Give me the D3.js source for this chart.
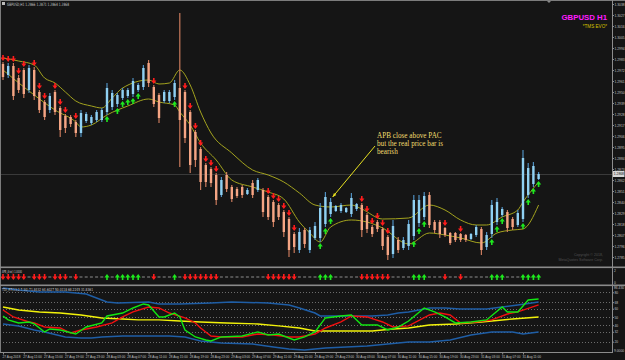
<!DOCTYPE html>
<html>
<head>
<meta charset="utf-8">
<script src="https://cdn.jsdelivr.net/npm/d3@7"></script>
<style>
  body { margin: 0; background: #151515; }
  svg { display: block; font-family: "DejaVu Sans", sans-serif; }
</style>
</head>
<body>
<div id="chart"></div>
<script>
// GBPUSD H1 bars, 27 Aug 07:00 -> 31 Aug 10:00
const barOpen = [1.2978,1.2967,1.2976,1.2964,1.2972,1.2952,1.2972,1.2950,1.2940,1.2932,
  1.2950,1.2934,1.2926,1.2925,1.2920,1.2909,1.2921,1.2919,1.2922,1.2922,
  1.2930,1.2935,1.2938,1.2944,1.2946,1.2948,1.2952,1.2955,1.2979,1.2955,
  1.2947,1.2941,1.2941,1.2945,1.2954,1.2950,1.2930,1.2910,1.2893,1.2877,
  1.2873,1.2867,1.2847,1.2867,1.2855,1.2853,1.2855,1.2848,1.2859,1.2852,
  1.2852,1.2845,1.2840,1.2837,1.2830,1.2823,1.2808,1.2792,1.2812,1.2792,
  1.2804,1.2804,1.2818,1.2828,1.2831,1.2831,1.2830,1.2828,1.2833,1.2837,
  1.2827,1.2815,1.2820,1.2813,1.2805,1.2788,1.2802,1.2794,1.2796,1.2806,
  1.2819,1.2825,1.2847,1.2820,1.2820,1.2814,1.2809,1.2809,1.2808,1.2807,
  1.2803,1.2807,1.2813,1.2795,1.2808,1.2820,1.2827,1.2830,1.2823,1.2817,
  1.2823,1.2847,1.2858,1.2863];
const barHigh = [1.2980,1.2979,1.2979,1.2967,1.2974,1.2977,1.2975,1.2952,1.2942,1.2949,
  1.2952,1.2936,1.2928,1.2927,1.2922,1.2932,1.2930,1.2927,1.2932,1.2934,
  1.2959,1.2952,1.2949,1.2954,1.2954,1.2964,1.2959,1.2977,1.2982,1.2957,
  1.2949,1.2952,1.2952,1.2962,1.3029,1.2952,1.2932,1.2912,1.2895,1.2879,
  1.2875,1.2869,1.2865,1.2870,1.2857,1.2855,1.2857,1.2854,1.2862,1.2864,
  1.2854,1.2847,1.2842,1.2839,1.2832,1.2825,1.2810,1.2814,1.2814,1.2815,
  1.2820,1.2839,1.2850,1.2844,1.2837,1.2839,1.2835,1.2849,1.2839,1.2839,
  1.2829,1.2817,1.2822,1.2815,1.2807,1.2822,1.2805,1.2805,1.2822,1.2847,
  1.2847,1.2850,1.2850,1.2822,1.2822,1.2815,1.2810,1.2810,1.2809,1.2808,
  1.2809,1.2817,1.2815,1.2810,1.2842,1.2844,1.2835,1.2832,1.2825,1.2832,
  1.2892,1.2879,1.2880,1.2870];
const barLow = [1.2962,1.2964,1.2942,1.2949,1.2944,1.2949,1.2942,1.2929,1.2922,1.2929,
  1.2927,1.2905,1.2909,1.2915,1.2905,1.2905,1.2919,1.2917,1.2920,1.2920,
  1.2927,1.2932,1.2935,1.2942,1.2944,1.2945,1.2950,1.2952,1.2955,1.2935,
  1.2919,1.2939,1.2939,1.2942,1.2875,1.2899,1.2869,1.2875,1.2852,1.2855,
  1.2855,1.2837,1.2845,1.2850,1.2840,1.2844,1.2844,1.2847,1.2844,1.2850,
  1.2825,1.2822,1.2815,1.2822,1.2805,1.2785,1.2789,1.2789,1.2794,1.2789,
  1.2802,1.2800,1.2815,1.2825,1.2830,1.2829,1.2829,1.2825,1.2831,1.2805,
  1.2809,1.2805,1.2810,1.2792,1.2782,1.2784,1.2789,1.2792,1.2792,1.2802,
  1.2815,1.2822,1.2814,1.2809,1.2804,1.2805,1.2797,1.2800,1.2800,1.2800,
  1.2802,1.2805,1.2787,1.2792,1.2804,1.2817,1.2825,1.2810,1.2812,1.2815,
  1.2820,1.2844,1.2855,1.2862];
const barClose = [1.2965,1.2976,1.2946,1.2952,1.2948,1.2974,1.2946,1.2932,1.2925,1.2946,
  1.2930,1.2912,1.2914,1.2918,1.2909,1.2929,1.2928,1.2925,1.2930,1.2932,
  1.2954,1.2949,1.2947,1.2952,1.2952,1.2961,1.2957,1.2974,1.2959,1.2938,
  1.2924,1.2950,1.2950,1.2959,1.2922,1.2904,1.2877,1.2882,1.2860,1.2860,
  1.2859,1.2842,1.2862,1.2853,1.2843,1.2846,1.2847,1.2852,1.2847,1.2862,
  1.2830,1.2825,1.2820,1.2825,1.2810,1.2792,1.2795,1.2810,1.2798,1.2812,
  1.2816,1.2834,1.2845,1.2840,1.2836,1.2837,1.2834,1.2844,1.2838,1.2812,
  1.2813,1.2808,1.2813,1.2796,1.2787,1.2816,1.2792,1.2802,1.2818,1.2842,
  1.2842,1.2846,1.2817,1.2812,1.2808,1.2807,1.2799,1.2802,1.2802,1.2802,
  1.2808,1.2815,1.2792,1.2807,1.2837,1.2840,1.2833,1.2814,1.2815,1.2829,
  1.2884,1.2874,1.2876,1.2868];

// APB arrow signal per bar: R = sell, U = buy, N = none
const signals = ("RRRRRNRRRNRRRNRNNNNNUNUUUUUNNRNNNUN" +
  "RRRRRRRNNNNNNNNNRRRRRRNNNNUUUNNNNN" +
  "RRRRRRNNNNUUUNNNRNNRNNNNNUUUNNNUUUU").split("");

// PAC channel [bar, price]
const pacUpper = [[0,1.2984],[3,1.2981],[6,1.2977],[8,1.2964],[10,1.2959],[12,1.2950],[14,1.2941],
  [17,1.2936],[19,1.2934],[21,1.2944],[23,1.2954],[28,1.2962],[30,1.2958],[32,1.2959],[34,1.2972],
  [36,1.2957],[38,1.2930],[40,1.2909],[44,1.2889],[48,1.2872],[51,1.2867],[54,1.2860],[57,1.2849],
  [60,1.2837],[63,1.2835],[67,1.2837],[69,1.2833],[73,1.2823],[78,1.2824],[82,1.2837],[85,1.2832],
  [88,1.2822],[91,1.2817],[93,1.2817],[96,1.2825],[99,1.2832],[100,1.2840],[103,1.2860]];
const pacLower = [[0,1.2972],[6,1.2947],[10,1.2932],[14,1.2920],[15,1.2915],[17,1.2917],[20,1.2927],
  [24,1.2936],[28,1.2943],[30,1.2940],[33,1.2937],[34,1.2930],[36,1.2917],[38,1.2899],[41,1.2882],
  [44,1.2862],[48,1.2855],[51,1.2850],[54,1.2843],[57,1.2820],[59,1.2809],[61,1.2800],[63,1.2815],
  [67,1.2822],[70,1.2820],[73,1.2814],[78,1.2798],[82,1.2809],[85,1.2807],[88,1.2804],[92,1.2799],
  [95,1.2809],[98,1.2812],[100,1.2813],[103,1.2837]];

// TDI lines [bar, value]
const tdiUpper = [[0,85.2],[3,82.8],[7,80.4],[12,80.4],[16,77.9],[19,70.6],[20,68.2],[22,67.0],[28,68.2],
  [30,65.8],[34,65.8],[40,67.0],[44,68.2],[51,67.0],[55,64.6],[57,60.9],[60,54.8],[61,51.2],[67,51.2],
  [71,51.2],[74,52.4],[76,54.8],[78,56.1],[82,60.9],[85,60.9],[88,59.7],[93,59.7],[96,62.1],[99,64.6],[103,68.2]];
const tdiLower = [[0,41.5],[3,39.1],[6,34.2],[8,31.8],[12,25.7],[15,24.5],[17,24.5],[19,25.7],[23,26.9],
  [26,26.9],[32,26.9],[35,25.7],[38,20.8],[40,19.6],[42,18.4],[48,17.2],[52,13.5],[55,11.1],[58,9.9],
  [60,11.1],[62,12.3],[66,13.5],[70,14.8],[74,17.2],[78,19.6],[82,19.6],[86,22.0],[90,28.1],[94,31.8],
  [98,31.8],[100,29.3],[103,31.8]];
const tdiBase = [[0,62.1],[3,58.5],[7,56.1],[11,54.8],[15,52.4],[19,48.8],[23,47.6],[26,46.4],[30,46.4],
  [34,45.1],[38,43.9],[43,42.7],[49,41.5],[53,39.1],[57,36.6],[60,33.0],[64,33.0],[67,33.0],[71,33.0],
  [75,35.4],[78,36.6],[82,40.3],[87,41.5],[92,43.9],[98,47.6],[103,50.0]];
const tdiSignal = [[0,58.5],[2,50.0],[5,43.9],[6,42.7],[8,37.8],[11,36.6],[13,30.5],[15,34.2],[18,37.8],
  [21,42.7],[23,50.0],[25,56.1],[28,62.1],[30,60.9],[32,54.8],[35,48.8],[37,42.7],[38,36.6],[40,26.9],
  [42,25.7],[46,25.7],[49,29.3],[52,28.1],[55,25.7],[57,25.7],[60,29.3],[62,36.6],[65,43.9],[67,51.2],
  [70,50.0],[73,43.9],[75,37.8],[78,39.1],[82,52.4],[84,54.8],[86,52.4],[88,42.7],[91,43.9],[94,46.4],
  [97,53.6],[99,56.1],[103,64.6]];
const tdiPrice = [[0,51.2],[1,46.4],[3,42.7],[5,43.9],[6,41.5],[8,31.8],[9,35.4],[11,34.2],[14,29.3],
  [16,37.8],[19,42.7],[20,51.2],[23,54.8],[25,60.9],[27,65.8],[28,64.6],[30,50.0],[31,50.0],[33,54.8],
  [34,50.0],[35,34.2],[37,25.7],[39,22.0],[40,20.8],[42,25.7],[46,26.9],[49,31.8],[51,28.1],[53,29.3],
  [56,22.0],[58,25.7],[60,31.8],[61,40.3],[62,48.8],[65,51.2],[67,52.4],[69,40.3],[72,40.3],[74,34.2],
  [76,37.8],[78,45.1],[81,60.9],[83,56.1],[85,50.0],[87,42.7],[90,43.9],[93,46.4],[96,62.1],[97,56.1],
  [99,56.1],[101,70.6],[103,71.8]];

const priceTicks = [1.3038,1.3027,1.3016,1.3005,1.2994,1.2983,1.2972,1.2961,1.2950,1.2939,1.2928,1.2917,
  1.2906,1.2895,1.2884,1.2873,1.2862,1.2851,1.2840,1.2829,1.2818,1.2807,1.2796,1.2785];
const tdiLevels = [80, 68, 60, 50, 40, 32, 20];
const timeLabels = ["27 Aug 2018","27 Aug 11:00","27 Aug 15:00","27 Aug 19:00","27 Aug 23:00",
  "28 Aug 03:00","28 Aug 07:00","28 Aug 11:00","28 Aug 15:00","28 Aug 19:00","28 Aug 23:00",
  "29 Aug 03:00","29 Aug 07:00","29 Aug 11:00","29 Aug 15:00","29 Aug 19:00","29 Aug 23:00",
  "30 Aug 03:00","30 Aug 07:00","30 Aug 11:00","30 Aug 15:00","30 Aug 19:00","30 Aug 23:00",
  "31 Aug 03:00","31 Aug 07:00","31 Aug 11:00"];
const noteLines = ["APB close above PAC", "but the real price bar is", "bearish"];
const noteBar = 63;

const W = 625, H = 360, axisX = 612;
const n = barClose.length;
const tinyFont = "'Liberation Sans', Arial, sans-serif";

const svg = d3.select("#chart").append("svg")
    .attr("width", W)
    .attr("height", H);

svg.append("rect").attr("width", W).attr("height", H).attr("fill", "#151515");

const x = d3.scaleLinear().domain([0, n - 1]).range([3, 538.6]);
const y = d3.scaleLinear().domain([1.2774, 1.3040]).range([268, 2]);
const yTdi = d3.scaleLinear().domain([9, 86.4]).range([350.7, 287]);
const ySig = 277;

svg.append("defs").append("clipPath").attr("id", "mainClip")
    .append("rect").attr("x", 1).attr("y", 1).attr("width", axisX - 1).attr("height", 265);

///////////////////////////// main panel /////////////////////////////
const main = svg.append("g").attr("clip-path", "url(#mainClip)");

// bid line
main.append("line")
    .attr("x1", 0).attr("x2", axisX)
    .attr("y1", Math.round(y(barClose[n - 1])) + 0.5).attr("y2", Math.round(y(barClose[n - 1])) + 0.5)
    .attr("stroke", "#3a3a3a");

const line = d3.line().x(d => x(d[0])).y(d => y(d[1])).curve(d3.curveMonotoneX);
[pacUpper, pacLower].forEach(function(s) {
    main.append("path").attr("d", line(s))
        .attr("fill", "none").attr("stroke", "#a3a31e").attr("stroke-width", 1);
});

const bars = main.selectAll(".bar").data(d3.range(n)).enter().append("g").attr("class", "bar");
bars.append("line")
    .attr("x1", i => x(i)).attr("x2", i => x(i))
    .attr("y1", i => y(barHigh[i])).attr("y2", i => y(barLow[i]))
    .attr("stroke", i => barClose[i] >= barOpen[i] ? "#4f8fc0" : "#c97a5c")
    .attr("stroke-width", 1.2);
bars.append("rect")
    .attr("x", i => x(i) - 1.2)
    .attr("width", 2.4)
    .attr("y", i => y(Math.max(barOpen[i], barClose[i])))
    .attr("height", i => Math.max(1, Math.abs(y(barOpen[i]) - y(barClose[i]))))
    .attr("fill", i => barClose[i] >= barOpen[i] ? "#8fd0f2" : "#f5a584");

const arrowDown = "M-0.8,-3 H0.8 V-0.6 H2.6 L0,3 L-2.6,-0.6 H-0.8 Z";
const arrowUp = "M-0.8,3 H0.8 V0.6 H2.6 L0,-3 L-2.6,0.6 H-0.8 Z";

main.selectAll(".sig").data(d3.range(n).filter(i => signals[i] !== "N")).enter()
    .append("path")
    .attr("d", i => signals[i] === "R" ? arrowDown : arrowUp)
    .attr("transform", i => "translate(" + x(i) + "," +
        (signals[i] === "R" ? y(barHigh[i]) - 4 : y(barLow[i]) + 4) + ")")
    .attr("fill", i => signals[i] === "R" ? "#ff1c1c" : "#1ee81e");

// annotation
const tip = [x(noteBar) + 2, y(barHigh[noteBar]) - 1];
svg.append("line")
    .attr("x1", 375).attr("y1", 146).attr("x2", tip[0]).attr("y2", tip[1])
    .attr("stroke", "#e6e020").attr("stroke-width", 1);
svg.append("path")
    .attr("d", "M0,0 L-4,-1.6 L-4,1.6 Z")
    .attr("fill", "#e6e020")
    .attr("transform", "translate(" + tip[0] + "," + tip[1] + ") rotate(" +
        (Math.atan2(tip[1] - 146, tip[0] - 375) * 180 / Math.PI) + ")");
svg.selectAll(".note").data(noteLines).enter().append("text")
    .attr("x", 377).attr("y", (d, i) => 137.5 + i * 8)
    .style("font-family", "'Liberation Serif', serif")
    .style("font-size", "7.2px")
    .attr("fill", "#f0dc6e")
    .text(d => d);

// titles
svg.append("text").attr("x", 607).attr("y", 20.3).attr("text-anchor", "end")
    .style("font-family", tinyFont)
    .style("font-size", "7.8px").style("font-weight", "bold").attr("fill", "#ff1cff")
    .text("GBPUSD H1");
svg.append("text").attr("x", 607).attr("y", 27.5).attr("text-anchor", "end")
    .style("font-family", tinyFont)
    .style("font-size", "4.6px").attr("fill", "#d6c200")
    .text("*TMS EVO*");
svg.append("rect").attr("x", 2).attr("y", 2).attr("width", 3).attr("height", 3).attr("fill", "#bbb");
svg.append("text").attr("x", 7).attr("y", 6.2)
    .style("font-size", "4.5px").attr("fill", "#c8c8c8")
    .attr("textLength", 62).attr("lengthAdjust", "spacingAndGlyphs")
    .text("GBPUSD,H1  1.2866 1.2871 1.2864 1.2868");
svg.append("text").attr("x", 603).attr("y", 256)
    .attr("text-anchor", "end").style("font-family", tinyFont)
    .style("font-size", "3.6px").attr("fill", "#505050")
    .text("Copyright © 2018,");
svg.append("text").attr("x", 603).attr("y", 261)
    .attr("text-anchor", "end").style("font-family", tinyFont)
    .style("font-size", "3.6px").attr("fill", "#505050")
    .text("MetaQuotes Software Corp.");
svg.append("path").attr("d", "M546,0 L552,0 L549,3 Z").attr("fill", "#888");

///////////////////////////// signal panel /////////////////////////////
svg.append("text").attr("x", 2).attr("y", 273)
    .style("font-size", "4px").attr("fill", "#c8c8c8")
    .attr("textLength", 20).attr("lengthAdjust", "spacingAndGlyphs")
    .text("APB_Arw() 1.0000");
svg.selectAll(".sig2").data(d3.range(n)).enter().append("path")
    .attr("d", i => signals[i] === "R" ? arrowDown : signals[i] === "U" ? arrowUp : "M-1.5,-0.6 H1.5 V0.6 H-1.5 Z")
    .attr("transform", i => "translate(" + x(i) + "," + ySig + ")")
    .attr("fill", i => signals[i] === "R" ? "#ff1c1c" : signals[i] === "U" ? "#1ee81e" : "#7a7a7a");

///////////////////////////// TDI panel /////////////////////////////
svg.selectAll(".lvl").data(tdiLevels).enter().append("line")
    .attr("x1", 0).attr("x2", axisX)
    .attr("y1", d => Math.round(yTdi(d)) + 0.5).attr("y2", d => Math.round(yTdi(d)) + 0.5)
    .attr("stroke", "#6c6c6c").attr("stroke-dasharray", "1,2");

const tline = d3.line().x(d => x(d[0])).y(d => yTdi(d[1]));
[[tdiUpper, "#1f5ea6", 1.5], [tdiLower, "#1f5ea6", 1.5], [tdiBase, "#f2f20a", 1.4],
 [tdiSignal, "#f01010", 1.4], [tdiPrice, "#12e612", 1.4]].forEach(function(s) {
    svg.append("path").attr("d", tline(s[0]))
        .attr("fill", "none").attr("stroke", s[1]).attr("stroke-width", s[2]);
});
svg.append("text").attr("x", 2).attr("y", 291)
    .style("font-size", "4px").attr("fill", "#c8c8c8")
    .attr("textLength", 91).attr("lengthAdjust", "spacingAndGlyphs")
    .text("TDI_RT(13,2,7,34) 71.8432 64.6027 50.0118 68.2245 31.8361");

///////////////////////////// frame & axes /////////////////////////////
svg.append("line").attr("x1", 0).attr("x2", W).attr("y1", 0.5).attr("y2", 0.5).attr("stroke", "#7c7c7c");
svg.append("line").attr("x1", 0.5).attr("x2", 0.5).attr("y1", 0).attr("y2", 352).attr("stroke", "#7c7c7c");
svg.append("line").attr("x1", axisX + 0.5).attr("x2", axisX + 0.5).attr("y1", 0).attr("y2", 353).attr("stroke", "#8c8c8c");
[266.5, 284.5].forEach(function(yy) {
    svg.append("rect").attr("x", 0).attr("y", yy).attr("width", W).attr("height", 1.6).attr("fill", "#8a8a8a");
});
svg.append("line").attr("x1", 0).attr("x2", axisX).attr("y1", 352.5).attr("y2", 352.5).attr("stroke", "#8c8c8c");

function tinyAxis(size) {
    return function(g) {
        g.select(".domain").remove();
        g.selectAll(".tick line").attr("stroke", "#8c8c8c");
        g.selectAll(".tick text")
            .attr("fill", "#c0c0c0")
            .style("font-size", size + "px")
            .style("font-family", tinyFont);
    };
}

svg.append("g")
    .attr("transform", "translate(" + (axisX + 0.5) + ",0)")
    .call(d3.axisRight(y).tickValues(priceTicks).tickSize(1.5).tickPadding(0.5).tickFormat(d3.format(".4f")))
    .call(tinyAxis(3.3));

// current price label
const cy = y(barClose[n - 1]);
svg.append("rect").attr("x", axisX + 1).attr("y", cy - 3).attr("width", 11.5).attr("height", 6).attr("fill", "#d8d8d8");
svg.append("text").attr("x", axisX + 1.8).attr("y", cy + 1.2)
    .style("font-size", "3.3px").style("font-family", tinyFont).attr("fill", "#111")
    .text(d3.format(".4f")(barClose[n - 1]));

// signal panel scale
[[2, 271.5], [0, 283.5]].forEach(function(d) {
    svg.append("text").attr("x", axisX + 2).attr("y", d[1])
        .style("font-size", "3.3px").style("font-family", tinyFont).attr("fill", "#c0c0c0").text(d[0]);
});

svg.append("g")
    .attr("transform", "translate(" + (axisX + 0.5) + ",0)")
    .call(d3.axisRight(yTdi).tickValues(tdiLevels).tickSize(1.5).tickPadding(0.5))
    .call(tinyAxis(3.3));
svg.append("text").attr("x", axisX + 2).attr("y", 289.2)
    .style("font-size", "3.3px").style("font-family", tinyFont).attr("fill", "#c0c0c0").text("86.430");
svg.append("text").attr("x", axisX + 2).attr("y", 351.5)
    .style("font-size", "3.3px").style("font-family", tinyFont).attr("fill", "#c0c0c0").text("9.0000");

svg.append("g")
    .attr("transform", "translate(0,352.5)")
    .call(d3.axisBottom(x).tickValues(timeLabels.map((d, i) => i * 4)).tickSize(2).tickPadding(1)
        .tickFormat((d, i) => timeLabels[i]))
    .call(tinyAxis(3.2))
    .selectAll(".tick text")
    .attr("text-anchor", "start").attr("dx", "-1");
</script>
</body>
</html>
